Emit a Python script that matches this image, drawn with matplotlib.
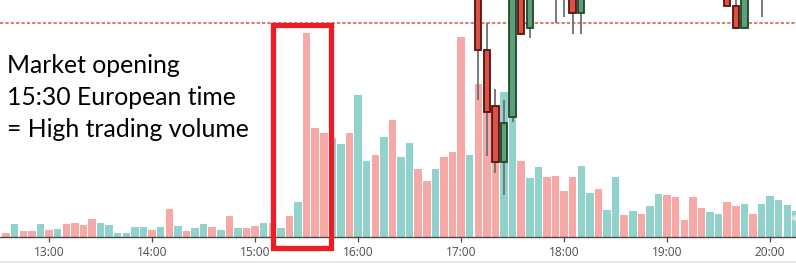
import matplotlib
matplotlib.use("Agg")
import matplotlib.pyplot as plt
from matplotlib.patches import Rectangle, Circle
from matplotlib.lines import Line2D

# ---------------- data ----------------
first_bar = "12:35"          # time of first 5-minute bar
bar_minutes = 5
volume = [4.7, 13.7, 6.3, 6.3, 13.7, 7.3, 8.3, 13.7, 14.7, 12.7,
          18.7, 14.7, 12.7, 4.7, 4.7, 10.3, 10.3, 7.3, 10.3, 28.7,
          11.7, 6.7, 9.7, 13.7, 10.3, 7.3, 21.7, 9.7, 9.7, 11.7,
          14.5, 14.7, 9.5, 21.3, 35.5, 204, 109, 104, 99, 93,
          104, 142, 76, 82, 100, 117, 80, 94, 68, 56,
          68, 80, 85, 200, 82, 153, 156, 121, 145, 140,
          76, 59, 70, 60, 61, 46, 60, 71, 44, 48,
          27, 60, 22.7, 26, 23.7, 31.7, 43.3, 42.3, 40.3, 17.3,
          40.3, 29.3, 25.3, 23.3, 35.3, 31.7, 33.3, 23.7, 33.3, 41.3,
          37.3, 32.3, 26.6]
direction = ["d", "u", "d", "d", "u", "d", "u", "d", "d", "d",
             "d", "u", "u", "u", "u", "u", "u", "d", "u", "d",
             "u", "d", "u", "u", "d", "u", "d", "u", "d", "d",
             "u", "d", "u", "d", "u", "d", "d", "d", "u", "u",
             "d", "u", "u", "d", "u", "d", "u", "u", "d", "d",
             "u", "d", "d", "d", "u", "d", "d", "d", "u", "u",
             "d", "u", "u", "d", "d", "d", "d", "u", "u", "d",
             "u", "u", "d", "u", "d", "u", "u", "d", "d", "d",
             "d", "d", "u", "u", "d", "d", "u", "d", "u", "u",
             "u", "u", "u"]

candle_times = ["17:10", "17:15", "17:20", "17:25", "17:30", "17:35", "17:40",
                "17:55", "18:00", "18:05", "18:10", "19:35", "19:40", "19:45", "19:55"]
c_open  = [262, 187, 131, 75, 120, 265, 209, 270, 265, 262, 224.6, 258, 231.3, 209, 245]
c_high  = [270, 214, 148.3, 137.3, 290, 275, 270, 275, 270, 268, 262, 265, 250, 260, 260]
c_low   = [137.6, 81.6, 64.6, 42.6, 115, 203, 199, 214, 220.6, 203.6, 203.6, 231, 208, 209, 220.6]
c_close = [187, 125, 75, 114, 280, 203, 260, 250, 245, 224.6, 255, 231, 209, 250, 255]
price_line = 214

tick_labels = ["13:00", "14:00", "15:00", "16:00", "17:00", "18:00", "19:00", "20:00"]
annotation = ["Market opening", "15:30 European time", "= High trading volume"]

# ---------------- helpers ----------------
def to_min(s):
    h, m = s.split(":")
    return int(h) * 60 + int(m)

W, H = 796, 269
fig = plt.figure(figsize=(W / 100, H / 100), dpi=100)
fig.patch.set_facecolor("white")

def fx(x):
    return x / W

def fy(y):
    return 1 - y / H

base_y = 237.3
ax = fig.add_axes([0, fy(base_y), 1, base_y / H])
ax.set_facecolor("white")

t0 = to_min(first_bar)
times = [t0 + bar_minutes * i for i in range(len(volume))]
colors = ["#92D2CC" if d == "u" else "#F7A9A8" for d in direction]
ax.bar(times, volume, width=bar_minutes * 0.87, color=colors, linewidth=0, zorder=2)

ax.set_xlim(751.4, 751.4 + W / 1.7167)
ax.set_ylim(0, base_y)

# price line (dashed)
ax.axhline(price_line, color="#D2574B", lw=1.1, ls=(0, (2.2, 1.3)), zorder=3)

# candles
for t, o, hi, lo, c in zip(candle_times, c_open, c_high, c_low, c_close):
    x = to_min(t)
    up = c >= o
    fill = "#5E9E78" if up else "#D95444"
    edge = "#1D4A2C" if up else "#5C1010"
    ax.vlines(x, lo, hi, color="#707070", lw=1.3, zorder=4)
    bw = bar_minutes * 0.75
    ax.add_patch(Rectangle((x - bw / 2, min(o, c)), bw, abs(c - o),
                           facecolor=fill, edgecolor=edge, lw=1.3, zorder=5))

# axis styling
for s in ["top", "left", "right"]:
    ax.spines[s].set_visible(False)
ax.spines["bottom"].set_color("#4A4A4A")
ax.spines["bottom"].set_linewidth(1.0)
ax.set_yticks([])
ax.set_xticks([to_min(s) for s in tick_labels])
ax.set_xticklabels(tick_labels, fontfamily="Open Sans", fontsize=8.6, color="#4A4D57")
ax.tick_params(axis="x", direction="out", length=3.5, width=0.9, color="#4A4A4A", pad=3.0)

# light separator line below axis
fig.add_artist(Line2D([0, 1], [fy(262.3), fy(262.3)], color="#E0E3EB", lw=1.2))

# red annotation rectangle
fig.add_artist(Rectangle((fx(272.5), fy(247.8)), fx(330.5) - fx(272.5), fy(24.5) - fy(247.8),
                         transform=fig.transFigure, fill=False, edgecolor="#EE1C25",
                         lw=3.8, joinstyle="miter", zorder=10))

# faint scroll button at right
fig.add_artist(Circle((fx(806), fy(218)), 14 / W, transform=fig.transFigure,
                      facecolor="white", alpha=0.55, edgecolor="none", zorder=9))

# annotation text
for txt, yb in zip(annotation, [72.7, 104.8, 136.7]):
    fig.text(fx(7.5), fy(yb), txt, fontsize=17.8, fontfamily="Lato", color="black",
             ha="left", va="baseline", zorder=11)

fig.savefig("out.png", dpi=100)
